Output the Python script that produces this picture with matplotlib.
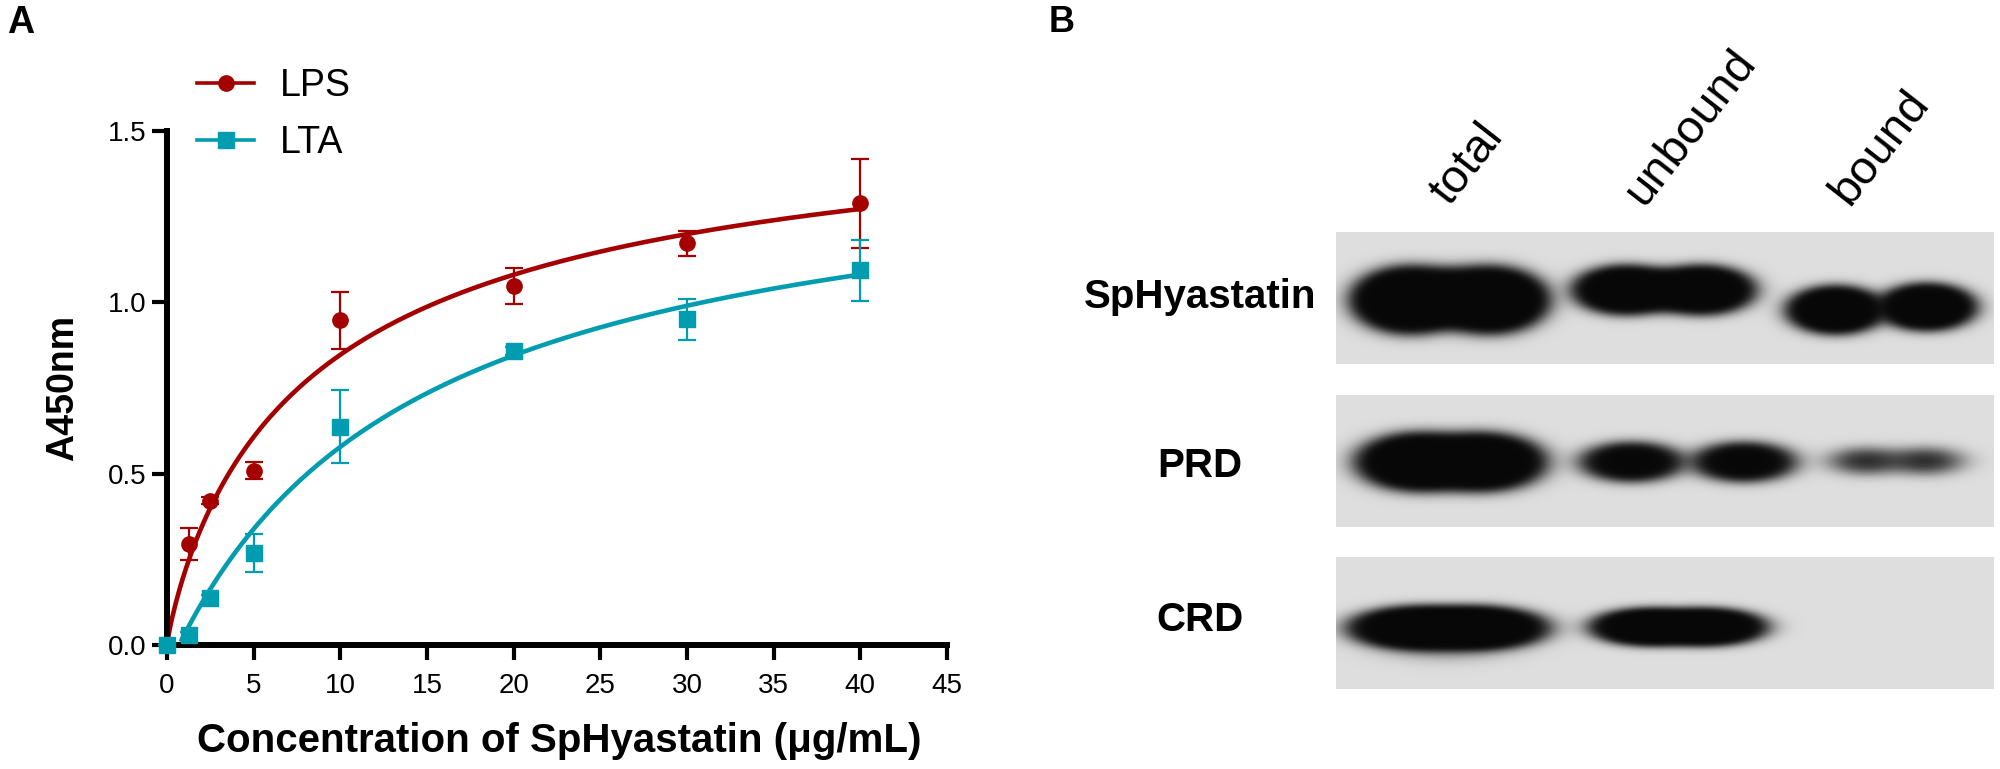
import numpy as np
import matplotlib
matplotlib.use("Agg")
import matplotlib.pyplot as plt

plt.rcParams['font.family'] = ['Liberation Sans', 'DejaVu Sans']

# ---- panel A data ----
conc = [0, 1.25, 2.5, 5, 10, 20, 30, 40]
lps_mean = [0, 0.295, 0.421, 0.509, 0.948, 1.048, 1.172, 1.289]
lps_err = [0, 0.047, 0.01, 0.024, 0.083, 0.052, 0.037, 0.13]
lta_mean = [0, 0.029, 0.136, 0.268, 0.637, 0.858, 0.951, 1.094]
lta_err = [0, 0.01, 0.01, 0.056, 0.107, 0.012, 0.06, 0.089]

# saturation fits as drawn in the figure
lps_bmax, lps_kd, lps_hill = 1.62, 9.0, 0.87
lta_bmax, lta_kd, lta_x0 = 1.48, 14.5, 0.7

xticks = [0, 5, 10, 15, 20, 25, 30, 35, 40, 45]
yticks = [0.0, 0.5, 1.0, 1.5]

# ---- panel B data ----
row_names = ['SpHyastatin', 'PRD', 'CRD']
lane_names = ['total', 'unbound', 'bound']
sph_strength = [40, 25, 25]
prd_strength = [30, 10, 1.6]
crd_strength = [30, 25, 0]

red = '#A50000'
teal = '#009CB0'

fig = plt.figure(figsize=(20, 7.69), dpi=100)

# overlay in pixel coords for the blot and free text
ov = fig.add_axes([0, 0, 1, 1])
ov.axis('off')

# band shapes: (cx, cy, sx, sy, weight) in panel pixels
shapes = [
    [[(74, 68, 22, 12.5, 1), (154, 68, 22, 12.5, 1), (114, 66, 20, 12, 0.35)],
     [(290, 58, 21, 9.7, 1), (366, 58, 21, 9.7, 1), (328, 58, 18, 9, 0.3)],
     [(500, 78, 19.5, 9.5, 1), (591, 75, 19.5, 9.3, 1)]],
    [[(85, 67, 25, 11.3, 1), (145, 67, 25, 11.3, 1)],
     [(296, 67, 23, 8.8, 1), (408, 67, 23, 8.8, 1)],
     [(530, 66, 22, 8, 1), (590, 66, 22, 8, 1)]],
    [[(85, 71, 28, 8.5, 1), (140, 71, 28, 8.5, 1), (110, 88, 40, 10, 0.015)],
     [(315, 70, 24, 7.5, 1), (370, 70, 24, 7.5, 1)],
     []],
]
strengths = [sph_strength, prd_strength, crd_strength]
panel_left, panel_w, panel_h = 1336, 658, 132
panel_tops = [232, 395, 557]

yy, xx = np.mgrid[0:panel_h, 0:panel_w] + 0.5
for r in range(3):
    dens = np.zeros((panel_h, panel_w))
    for lane in range(3):
        for cx, cy, sx, sy, w in shapes[r][lane]:
            dens += strengths[r][lane] * w * np.exp(-0.5 * (((xx - cx) / sx) ** 2 + ((yy - cy) / sy) ** 2))
    img = 0.03 + (0.87 - 0.03) * np.exp(-dens)
    top = panel_tops[r]
    ov.imshow(img, cmap='gray', vmin=0, vmax=1, aspect='auto', interpolation='bilinear',
              extent=(panel_left, panel_left + panel_w, top + panel_h, top))

ov.set_xlim(0, 2000)
ov.set_ylim(769, 0)

row_base = [308, 477, 631]
for name, yb in zip(row_names, row_base):
    ov.text(1200, yb, name, ha='center', va='baseline', fontsize=29, fontweight='bold')

lane_x = [1449, 1644, 1849]
lane_y = [207, 207, 207]
for name, x, y in zip(lane_names, lane_x, lane_y):
    ov.text(x, y, name, ha='left', va='baseline', rotation=52, rotation_mode='anchor', fontsize=34)

ov.text(7, 33, 'A', fontsize=27, fontweight='bold', va='baseline')
ov.text(1049, 32, 'B', fontsize=26, fontweight='bold', va='baseline')
ov.text(559, 752, 'Concentration of SpHyastatin (μg/mL)', ha='center', va='baseline',
        fontsize=29, fontweight='bold')
ov.text(63, 388, 'A450nm', ha='center', va='center', rotation=90, fontsize=27, fontweight='bold')

# ---- panel A ----
ax = fig.add_axes([167 / 2000, 1 - 645 / 769, 780 / 2000, (645 - 131) / 769])

xs = np.linspace(0, 40, 400)
ax.plot(xs, lps_bmax * xs ** lps_hill / (lps_kd ** lps_hill + xs ** lps_hill), color=red, lw=3.3, zorder=2)
xs2 = np.linspace(0.85, 40, 400)
ax.plot(xs2, lta_bmax * (xs2 - lta_x0) / (lta_kd + xs2 - lta_x0), color=teal, lw=3.3, zorder=2)

for mean, err, c, m in [(lps_mean, lps_err, red, 'o'), (lta_mean, lta_err, teal, 's')]:
    eb = ax.errorbar(conc, mean, yerr=err, fmt=m, color=c, ms=11, elinewidth=1.6,
                     capsize=6.5, capthick=1.6, zorder=3)
    arts = [eb.lines[0]] + list(eb.lines[1]) + list(eb.lines[2])
    for art in arts:
        art.set_clip_on(False)

ax.plot([], [], '-o', color=red, lw=2.6, ms=11, label='LPS')
ax.plot([], [], '-s', color=teal, lw=2.6, ms=11, label='LTA')
ax.legend(loc='upper left', bbox_to_anchor=(197 / 2000, 1 - 68 / 769), bbox_transform=fig.transFigure,
          frameon=False, fontsize=27, handlelength=1.52, handletextpad=0.7, labelspacing=0.55,
          borderpad=0, borderaxespad=0)

ax.set_xlim(0, 45)
ax.set_ylim(0, 1.5)
ax.set_xticks(xticks)
ax.set_yticks(yticks)
ax.set_yticklabels(['%.1f' % v for v in yticks])
for s in ['top', 'right']:
    ax.spines[s].set_visible(False)
for s in ['left', 'bottom']:
    ax.spines[s].set_linewidth(4.3)
ax.tick_params(axis='both', width=3, length=11, labelsize=20)
ax.tick_params(axis='x', pad=9)
ax.tick_params(axis='y', pad=4)
ax.patch.set_alpha(0)

fig.savefig('out.png', dpi=100)
